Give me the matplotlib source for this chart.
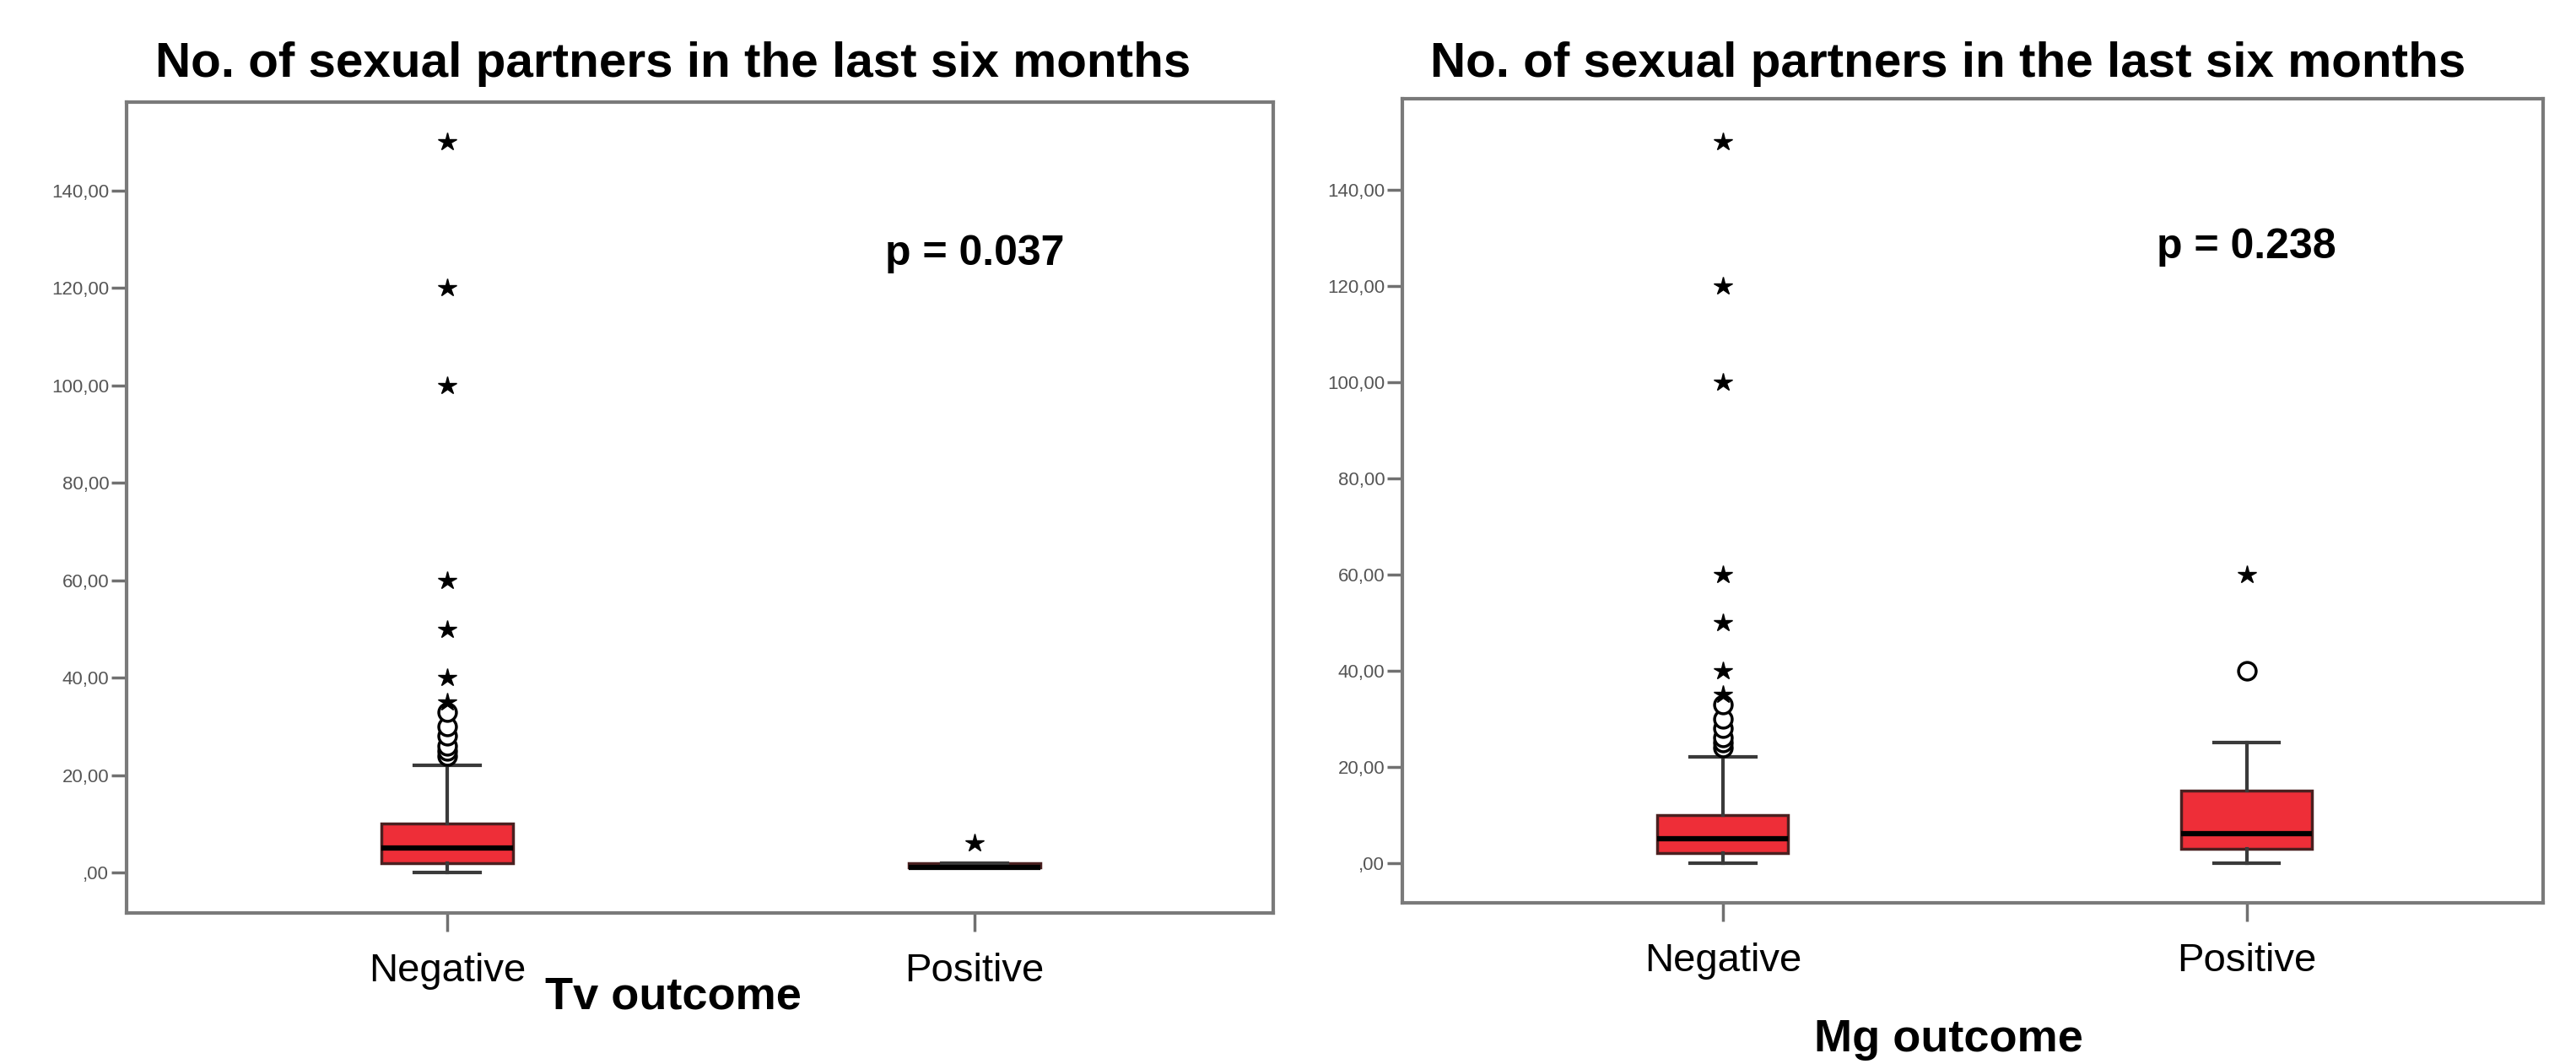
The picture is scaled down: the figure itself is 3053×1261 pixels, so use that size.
import matplotlib
matplotlib.use("Agg")
import matplotlib.pyplot as plt

plt.rcParams['font.family'] = ['Liberation Sans', 'DejaVu Sans']

# categories and values
groups = ["Negative", "Positive"]
title = "No. of sexual partners in the last six months"
yticks = [0, 20, 40, 60, 80, 100, 120, 140]
ytick_labels = [",00", "20,00", "40,00", "60,00", "80,00", "100,00", "120,00", "140,00"]

# Tv outcome
tv_q1 = [2, 1]
tv_med = [5, 1]
tv_q3 = [10, 2]
tv_lo = [0, 1]
tv_hi = [22, 2]
tv_circles = [[24, 25, 26, 28, 30, 33], []]
tv_stars = [[35, 40, 50, 60, 100, 120, 150], [6]]
tv_p = "p = 0.037"

# Mg outcome
mg_q1 = [2, 3]
mg_med = [5, 6]
mg_q3 = [10, 15]
mg_lo = [0, 0]
mg_hi = [22, 25]
mg_circles = [[24, 25, 26, 28, 30, 33], [40]]
mg_stars = [[35, 40, 50, 60, 100, 120, 150], [60]]
mg_p = "p = 0.238"

W, H = 3053, 1261
fig = plt.figure(figsize=(W / 100, H / 100), dpi=100)


def panel(rect, q1, med, q3, lo, hi, circles, stars, ptxt, xlab, ylim, xlim,
          title_xy, xlab_y, p_y):
    ax = fig.add_axes(rect)
    stats = []
    for i in range(len(groups)):
        stats.append(dict(q1=q1[i], med=med[i], q3=q3[i], whislo=lo[i],
                          whishi=hi[i], fliers=circles[i], label=groups[i]))
    ax.bxp(stats, positions=[1, 2], widths=0.25, patch_artist=True,
           boxprops=dict(facecolor='#EE2E38', edgecolor='#4a2020', linewidth=2.5),
           medianprops=dict(color='black', linewidth=4.5),
           whiskerprops=dict(color='#3a3a3a', linewidth=3),
           capprops=dict(color='#3a3a3a', linewidth=3),
           flierprops=dict(marker='o', markersize=15, markerfacecolor='white',
                           markeredgecolor='black', markeredgewidth=2.5))
    # extreme values drawn as stars
    for i, s in enumerate(stars):
        ax.plot([i + 1] * len(s), s, linestyle='none', marker='*',
                markersize=16, color='black')
    ax.set_xlim(xlim)
    ax.set_ylim(ylim)
    ax.set_yticks(yticks)
    ax.set_yticklabels(ytick_labels, fontsize=16, color='#555555')
    ax.set_xticks([1, 2])
    ax.set_xticklabels(groups, fontsize=34)
    ax.tick_params(axis='y', length=13, width=2.5, color='#707070', pad=2)
    ax.tick_params(axis='x', length=16, width=2.5, color='#707070', pad=18)
    for sp in ax.spines.values():
        sp.set_color('#7a7a7a')
        sp.set_linewidth(3)
    ax.text(2, p_y, ptxt, ha='center', va='center', fontsize=36, fontweight='bold')
    fig.text(title_xy[0] / W, 1 - title_xy[1] / H, title, ha='center', va='center',
             fontsize=42, fontweight='bold')
    fig.text(title_xy[0] / W, 1 - xlab_y / H, xlab, ha='center', va='center',
             fontsize=39, fontweight='bold')
    return ax


panel([150 / W, 1 - 1082 / H, (1509 - 150) / W, (1082 - 121) / H],
      tv_q1, tv_med, tv_q3, tv_lo, tv_hi, tv_circles, tv_stars, tv_p, "Tv outcome",
      (-8.3, 158.2), (0.392, 2.566), (798, 76), 1182, 127)

panel([1662 / W, 1 - 1070 / H, (3014 - 1662) / W, (1070 - 117) / H],
      mg_q1, mg_med, mg_q3, mg_lo, mg_hi, mg_circles, mg_stars, mg_p, "Mg outcome",
      (-8.3, 158.9), (0.388, 2.566), (2309, 76), 1232, 128)

fig.savefig("out.png", dpi=100)
